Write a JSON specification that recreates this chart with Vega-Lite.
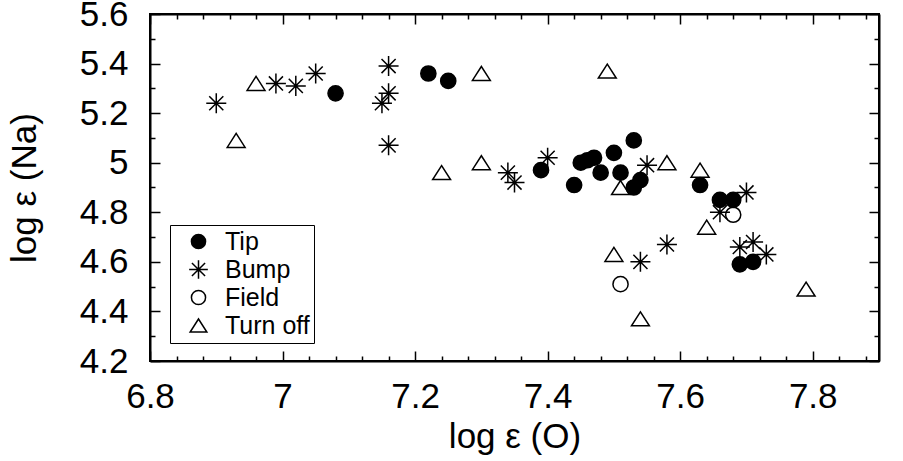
{
  "$schema": "https://vega.github.io/schema/vega-lite/v6.json",
  "width": 729,
  "height": 347,
  "autosize": {"type": "none"},
  "padding": {"left": 150, "top": 14, "right": 24, "bottom": 100},
  "background": "white",
  "config": {
    "font": "Liberation Sans",
    "view": {"stroke": "black", "strokeWidth": 2},
    "axis": {
      "domainColor": "black", "domainWidth": 2, "tickColor": "black", "tickWidth": 1.5,
      "labelColor": "black", "titleColor": "black", "labelFont": "Liberation Sans",
      "titleFont": "Liberation Sans", "titleFontWeight": "normal", "grid": false
    },
    "legend": {
      "strokeColor": "black", "fillColor": "white", "padding": 4,
      "labelFontSize": 25, "labelFont": "Liberation Sans", "labelColor": "black",
      "symbolSize": 200, "symbolStrokeColor": "black", "symbolStrokeWidth": 1.5,
      "labelOffset": 14, "rowPadding": 2, "symbolOffset": 12
    }
  },
  "data": {
    "values": [
      {"O": 7.08, "Na": 5.28, "group": "Tip"},
      {"O": 7.22, "Na": 5.36, "group": "Tip"},
      {"O": 7.25, "Na": 5.33, "group": "Tip"},
      {"O": 7.39, "Na": 4.97, "group": "Tip"},
      {"O": 7.44, "Na": 4.91, "group": "Tip"},
      {"O": 7.45, "Na": 5.00, "group": "Tip"},
      {"O": 7.46, "Na": 5.01, "group": "Tip"},
      {"O": 7.47, "Na": 5.02, "group": "Tip"},
      {"O": 7.48, "Na": 4.96, "group": "Tip"},
      {"O": 7.50, "Na": 5.04, "group": "Tip"},
      {"O": 7.51, "Na": 4.96, "group": "Tip"},
      {"O": 7.53, "Na": 5.09, "group": "Tip"},
      {"O": 7.53, "Na": 4.90, "group": "Tip"},
      {"O": 7.54, "Na": 4.93, "group": "Tip"},
      {"O": 7.63, "Na": 4.91, "group": "Tip"},
      {"O": 7.66, "Na": 4.85, "group": "Tip"},
      {"O": 7.68, "Na": 4.85, "group": "Tip"},
      {"O": 7.69, "Na": 4.59, "group": "Tip"},
      {"O": 7.71, "Na": 4.60, "group": "Tip"},
      {"O": 6.90, "Na": 5.24, "group": "Bump"},
      {"O": 6.99, "Na": 5.32, "group": "Bump"},
      {"O": 7.02, "Na": 5.31, "group": "Bump"},
      {"O": 7.05, "Na": 5.36, "group": "Bump"},
      {"O": 7.16, "Na": 5.39, "group": "Bump"},
      {"O": 7.16, "Na": 5.28, "group": "Bump"},
      {"O": 7.15, "Na": 5.24, "group": "Bump"},
      {"O": 7.16, "Na": 5.07, "group": "Bump"},
      {"O": 7.34, "Na": 4.96, "group": "Bump"},
      {"O": 7.35, "Na": 4.92, "group": "Bump"},
      {"O": 7.40, "Na": 5.02, "group": "Bump"},
      {"O": 7.55, "Na": 4.99, "group": "Bump"},
      {"O": 7.54, "Na": 4.60, "group": "Bump"},
      {"O": 7.58, "Na": 4.67, "group": "Bump"},
      {"O": 7.66, "Na": 4.80, "group": "Bump"},
      {"O": 7.70, "Na": 4.88, "group": "Bump"},
      {"O": 7.69, "Na": 4.66, "group": "Bump"},
      {"O": 7.71, "Na": 4.68, "group": "Bump"},
      {"O": 7.73, "Na": 4.63, "group": "Bump"},
      {"O": 7.51, "Na": 4.51, "group": "Field"},
      {"O": 7.68, "Na": 4.79, "group": "Field"},
      {"O": 6.93, "Na": 5.09, "group": "Turn off"},
      {"O": 6.96, "Na": 5.32, "group": "Turn off"},
      {"O": 7.24, "Na": 4.96, "group": "Turn off"},
      {"O": 7.30, "Na": 5.36, "group": "Turn off"},
      {"O": 7.30, "Na": 5.00, "group": "Turn off"},
      {"O": 7.49, "Na": 5.37, "group": "Turn off"},
      {"O": 7.51, "Na": 4.90, "group": "Turn off"},
      {"O": 7.58, "Na": 5.00, "group": "Turn off"},
      {"O": 7.63, "Na": 4.97, "group": "Turn off"},
      {"O": 7.64, "Na": 4.74, "group": "Turn off"},
      {"O": 7.50, "Na": 4.63, "group": "Turn off"},
      {"O": 7.54, "Na": 4.37, "group": "Turn off"},
      {"O": 7.79, "Na": 4.49, "group": "Turn off"}
    ]
  },
  "layer": [
    {
      "mark": {"type": "point", "opacity": 1, "strokeWidth": 1.5, "size": 230},
      "encoding": {
        "x": {
          "field": "O", "type": "quantitative",
          "scale": {"domain": [6.8, 7.9], "nice": false, "zero": false},
          "axis": {
            "orient": "bottom", "title": "log ε (O)",
            "values": [6.8,6.84,6.88,6.92,6.96,7,7.04,7.08,7.12,7.16,7.2,7.24,7.28,7.32,7.36,7.4,7.44,7.48,7.52,7.56,7.6,7.64,7.68,7.72,7.76,7.8,7.84,7.88],
            "labelExpr": "abs(datum.value*5 - round(datum.value*5)) < 1e-6 ? format(datum.value, '~g') : ''",
            "tickSize": {"condition": {"test": "abs(datum.value*5 - round(datum.value*5)) < 1e-6", "value": -10}, "value": -5},
            "labelFontSize": 35, "titleFontSize": 35, "labelPadding": 28, "titlePadding": 0,
            "labelFlush": false, "labelOverlap": false
          }
        },
        "y": {
          "field": "Na", "type": "quantitative",
          "scale": {"domain": [4.2, 5.6], "nice": false, "zero": false},
          "axis": {
            "orient": "left", "title": "log ε (Na)",
            "values": [4.2,4.3,4.4,4.5,4.6,4.7,4.8,4.9,5,5.1,5.2,5.3,5.4,5.5,5.6],
            "labelExpr": "abs(datum.value*5 - round(datum.value*5)) < 1e-6 ? format(datum.value, '~g') : ''",
            "tickSize": {"condition": {"test": "abs(datum.value*5 - round(datum.value*5)) < 1e-6", "value": -10}, "value": -5},
            "labelFontSize": 35, "titleFontSize": 35, "labelPadding": 32, "titlePadding": 37,
            "labelFlush": false, "labelOverlap": false
          }
        },
        "shape": {
          "field": "group", "type": "nominal",
          "scale": {"domain": ["Tip", "Bump", "Field", "Turn off"],
            "range": ["circle", "M-1.32,0L1.32,0M0,-1.32L0,1.32M-0.93,-0.93L0.93,0.93M-0.93,0.93L0.93,-0.93", "circle", "M0,-0.92L-1.18,0.92L1.18,0.92Z"]},
          "legend": {"orient": "none", "legendX": 20, "legendY": 211, "title": null,
            "labelExpr": "datum.label + '\u00a0\u00a0\u00a0'"}
        },
        "fill": {
          "field": "group", "type": "nominal",
          "scale": {"domain": ["Tip", "Bump", "Field", "Turn off"], "range": ["black", "transparent", "transparent", "transparent"]},
          "legend": {"orient": "none", "legendX": 20, "legendY": 211, "title": null,
            "labelExpr": "datum.label + '\u00a0\u00a0\u00a0'"}
        },
        "stroke": {
          "field": "group", "type": "nominal",
          "scale": {"domain": ["Tip", "Bump", "Field", "Turn off"], "range": ["black", "black", "black", "black"]},
          "legend": {"orient": "none", "legendX": 20, "legendY": 211, "title": null,
            "labelExpr": "datum.label + '\u00a0\u00a0\u00a0'"}
        }
      }
    },
    {
      "mark": {"type": "point", "opacity": 0},
      "encoding": {
        "x": {
          "field": "O", "type": "quantitative",
          "scale": {"domain": [6.8, 7.9], "nice": false, "zero": false},
          "axis": {
            "orient": "top", "title": null, "labels": false,
            "values": [6.8,6.84,6.88,6.92,6.96,7,7.04,7.08,7.12,7.16,7.2,7.24,7.28,7.32,7.36,7.4,7.44,7.48,7.52,7.56,7.6,7.64,7.68,7.72,7.76,7.8,7.84,7.88],
            "tickSize": {"condition": {"test": "abs(datum.value*5 - round(datum.value*5)) < 1e-6", "value": -10}, "value": -5}
          }
        },
        "y": {
          "field": "Na", "type": "quantitative",
          "scale": {"domain": [4.2, 5.6], "nice": false, "zero": false},
          "axis": {
            "orient": "right", "title": null, "labels": false,
            "values": [4.2,4.3,4.4,4.5,4.6,4.7,4.8,4.9,5,5.1,5.2,5.3,5.4,5.5,5.6],
            "tickSize": {"condition": {"test": "abs(datum.value*5 - round(datum.value*5)) < 1e-6", "value": -10}, "value": -5}
          }
        }
      }
    }
  ],
  "resolve": {"axis": {"x": "independent", "y": "independent"}}
}
